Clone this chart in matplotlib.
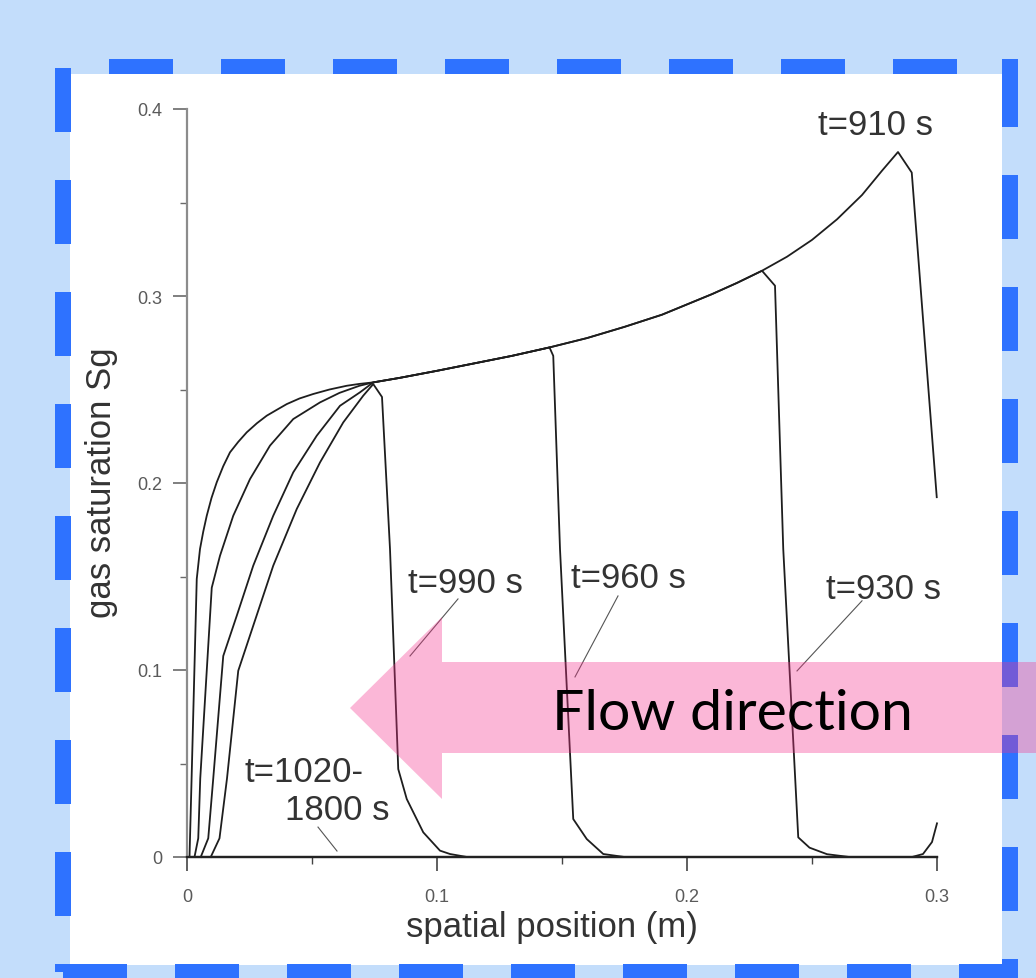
import matplotlib
matplotlib.use('Agg')
import matplotlib.pyplot as plt
from matplotlib.patches import Rectangle, Polygon
from matplotlib.ticker import FixedLocator, FixedFormatter

plt.rcParams['font.family'] = ['Liberation Sans', 'DejaVu Sans']

W, H, DPI = 1036, 979, 100

# ---------------- data ----------------
# shared upper envelope of the saturation profiles
env_x = [0.0039, 0.0052, 0.0065, 0.0079, 0.0098, 0.0119, 0.0145, 0.0172, 0.0205, 0.0239,
         0.0280, 0.0319, 0.0360, 0.0399, 0.0450, 0.0505, 0.0570, 0.0639, 0.0690,
         0.0745, 0.085, 0.100, 0.115, 0.130, 0.145, 0.160, 0.175, 0.190, 0.200,
         0.210, 0.220, 0.230, 0.240, 0.250, 0.260, 0.270, 0.278, 0.2844]
env_y = [0.1487, 0.1647, 0.1740, 0.1825, 0.1920, 0.2004, 0.2090, 0.2164, 0.2220, 0.2271,
         0.2320, 0.2360, 0.2392, 0.2422, 0.2452, 0.2476, 0.2500, 0.2520, 0.2530,
         0.2538, 0.2562, 0.2600, 0.2640, 0.2680, 0.2725, 0.2775, 0.2835, 0.2900, 0.2955,
         0.3010, 0.3070, 0.3135, 0.3210, 0.3300, 0.3410, 0.3540, 0.3670, 0.3770]

# rising (left) parts of each profile
left_910_x = [0.0010, 0.0018]
left_910_y = [0.0, 0.040]
left_930_x = [0.0030, 0.0045, 0.0053, 0.0099, 0.0132, 0.0185, 0.0252, 0.0332, 0.0425, 0.0532,
              0.0610, 0.0690]
left_930_y = [0.0, 0.010, 0.042, 0.144, 0.1611, 0.1825, 0.2021, 0.2200, 0.2342, 0.2431,
              0.2482, 0.2520]
left_960_x = [0.0055, 0.0085, 0.0105, 0.0145, 0.0199, 0.0265, 0.0345, 0.0425, 0.0519, 0.0612,
              0.0692, 0.0725]
left_960_y = [0.0, 0.010, 0.042, 0.1075, 0.1290, 0.1558, 0.1825, 0.2057, 0.2253, 0.2413,
              0.2485, 0.2518]
left_990_x = [0.0095, 0.0130, 0.0160, 0.0205, 0.0265, 0.0345, 0.0439, 0.0532, 0.0625, 0.0705, 0.0745]
left_990_y = [0.0, 0.010, 0.042, 0.0996, 0.1237, 0.1558, 0.1861, 0.2110, 0.2324, 0.2467, 0.2529]

# front positions (peak) and falling parts
peak_x = {'910': 0.2844, '930': 0.230, '960': 0.145, '990': 0.0745}
front_910_x = [0.2899, 0.2999]
front_910_y = [0.366, 0.1924]
front_930_x = [0.2352, 0.2385, 0.2445, 0.2490, 0.2560, 0.2650, 0.2900, 0.2944, 0.2980, 0.3000]
front_930_y = [0.3055, 0.1647, 0.0105, 0.0050, 0.0015, 0.0, 0.0, 0.0016, 0.0080, 0.0180]
front_960_x = [0.1465, 0.1492, 0.1545, 0.1599, 0.1665, 0.1750, 0.3000]
front_960_y = [0.268, 0.1647, 0.0203, 0.0096, 0.0016, 0.0, 0.0]
front_990_x = [0.0780, 0.0812, 0.0845, 0.0879, 0.0945, 0.1012, 0.1052, 0.1120, 0.3000]
front_990_y = [0.246, 0.1647, 0.047, 0.031, 0.0132, 0.0034, 0.0016, 0.0, 0.0]

# late profiles t=1020-1800 s (no gas)
late_x = [0.0, 0.3]
late_y = [0.0, 0.0]

labels = ['t=910 s', 't=930 s', 't=960 s', 't=990 s', 't=1020-', '1800 s']
label_pos = [(0.2752, 0.3866), (0.2786, 0.1385), (0.1766, 0.1444), (0.1112, 0.1417),
             (0.0468, 0.0406), (0.0600, 0.0203)]
# leader lines: (from, to)
leaders = [((0.2700, 0.1370), (0.2440, 0.0995)),
           ((0.1724, 0.1396), (0.1552, 0.0963)),
           ((0.1084, 0.1380), (0.0892, 0.1075)),
           ((0.0524, 0.0160), (0.0600, 0.0032))]

xtick_vals = [0.0, 0.1, 0.2, 0.3]
xtick_labels = ['0', '0.1', '0.2', '0.3']
ytick_vals = [0.0, 0.1, 0.2, 0.3, 0.4]
ytick_labels = ['0', '0.1', '0.2', '0.3', '0.4']
xminor = [0.05, 0.15, 0.25]
yminor = [0.05, 0.15, 0.25, 0.35]


def profile(lx, ly, peak, fx, fy):
    ex = [x for x in env_x if lx[-1] < x <= peak]
    ey = [y for x, y in zip(env_x, env_y) if lx[-1] < x <= peak]
    return lx + ex + fx, ly + ey + fy


# ---------------- figure ----------------
fig = plt.figure(figsize=(W / DPI, H / DPI), dpi=DPI)
fig.patch.set_facecolor('#c3ddfb')


def rect_px(x0, y0, x1, y1, **kw):
    r = Rectangle((x0 / W, 1 - y1 / H), (x1 - x0) / W, (y1 - y0) / H,
                  transform=fig.transFigure, linewidth=0, **kw)
    fig.patches.append(r)
    return r


# white panel
rect_px(70, 75, 1002, 966, facecolor='white', zorder=-2)

# dashed frame
blue = '#2e72ff'
for x0 in [109, 221, 333, 445, 557, 669, 781, 893]:
    rect_px(x0, 60, x0 + 64, 75, facecolor=blue, zorder=-1)
for y0 in [69, 181, 293, 405, 517, 629, 741, 853]:
    rect_px(55, y0, 71, y0 + 64, facecolor=blue, zorder=-1)
rect_px(1002, 60, 1018, 128, facecolor=blue, zorder=-1)
for y0 in [176, 288, 400, 512, 624, 736, 848]:
    rect_px(1002, y0, 1018, y0 + 64, facecolor=blue, zorder=-1)
rect_px(1002, 960, 1018, 979, facecolor=blue, zorder=-1)
for x0 in [63, 175, 287, 399, 511, 623, 735, 847]:
    rect_px(x0, 965, x0 + 64, 979, facecolor=blue, zorder=-1)
rect_px(959, 965, 1018, 979, facecolor=blue, zorder=-1)
rect_px(55, 965, 71, 973, facecolor=blue, zorder=-1)

# axes
ax = fig.add_axes([187 / W, (H - 858) / H, 750 / W, 748 / H])
ax.set_facecolor('none')
ax.set_xlim(0, 0.3)
ax.set_ylim(0, 0.4)

line_kw = dict(color='#1e1e1e', lw=1.3, clip_on=False, solid_joinstyle='round')
profiles = [
    profile(left_910_x, left_910_y, peak_x['910'], front_910_x, front_910_y),
    profile(left_930_x, left_930_y, peak_x['930'], front_930_x, front_930_y),
    profile(left_960_x, left_960_y, peak_x['960'], front_960_x, front_960_y),
    profile(left_990_x, left_990_y, peak_x['990'], front_990_x, front_990_y),
]
ax.plot(late_x, late_y, color='#1e1e1e', lw=1.6, clip_on=False)
for px_, py_ in profiles:
    ax.plot(px_, py_, **line_kw)

for (a, b) in leaders:
    ax.plot([a[0], b[0]], [a[1], b[1]], color='#555555', lw=0.8, clip_on=False)

for txt, (tx, ty) in zip(labels, label_pos):
    ax.text(tx, ty, txt, ha='center', va='baseline', fontsize=25, color='#333333')

for s in ['top', 'right']:
    ax.spines[s].set_visible(False)
ax.spines['left'].set_color('#8c8c8c')
ax.spines['left'].set_linewidth(1.6)
ax.spines['bottom'].set_color('#222222')
ax.spines['bottom'].set_linewidth(1.6)

ax.xaxis.set_major_locator(FixedLocator(xtick_vals))
ax.xaxis.set_major_formatter(FixedFormatter(xtick_labels))
ax.yaxis.set_major_locator(FixedLocator(ytick_vals))
ax.yaxis.set_major_formatter(FixedFormatter(ytick_labels))
ax.xaxis.set_minor_locator(FixedLocator(xminor))
ax.yaxis.set_minor_locator(FixedLocator(yminor))
ax.tick_params(which='major', direction='out', length=10, width=1.2, colors='#6a6a6a',
               labelsize=13, labelcolor='#5a5a5a')
ax.tick_params(which='minor', direction='out', length=5, width=1.0, colors='#6a6a6a')
ax.tick_params(axis='x', which='major', pad=12, color='#444444')
ax.tick_params(axis='x', which='minor', color='#444444')
ax.tick_params(axis='y', which='major', pad=8)

# axis labels
fig.text(552 / W, 1 - 928 / H, 'spatial position (m)', ha='center', va='center',
         fontsize=25, color='#333333')
fig.text(101.5 / W, 1 - 483 / H, 'gas saturation Sg', ha='center', va='center',
         rotation=90, fontsize=25, color='#333333')

# flow direction arrow
arrow_px = [(350, 709), (442, 618), (442, 663), (1036, 663), (1036, 754), (442, 754), (442, 800)]
poly = Polygon([(x / W, 1 - y / H) for x, y in arrow_px], closed=True,
               transform=fig.transFigure, facecolor=(246 / 255, 48 / 255, 139 / 255),
               alpha=0.344, linewidth=0, zorder=5)
fig.patches.append(poly)

fs = 42
t = fig.text(732.5 / W, 1 - 730 / H, 'Flow direction', ha='center', va='baseline',
             fontsize=fs, color='black', family=['Lato', 'DejaVu Sans'], zorder=6)
fig.canvas.draw()
bb = t.get_window_extent()
t.set_fontsize(fs * 361 / bb.width)

fig.savefig('out.png', dpi=DPI, facecolor=fig.get_facecolor())
